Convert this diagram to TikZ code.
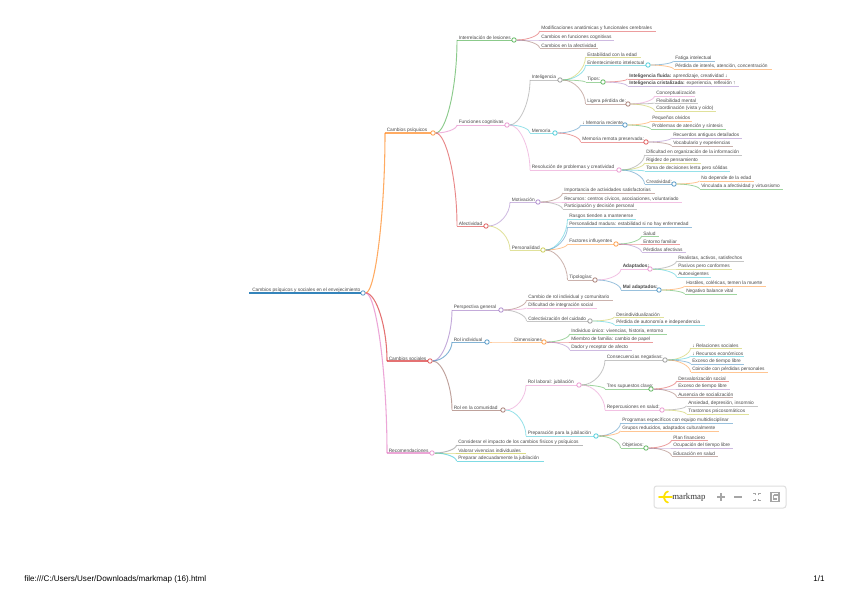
\documentclass[tikz,border=0pt]{standalone}
\usepackage{fontspec}
\setmainfont{Liberation Sans}
\newfontfamily\logofont{Liberation Serif}
\usetikzlibrary{calc}
\definecolor{c1}{HTML}{1F77B4}\definecolor{c2}{HTML}{FF7F0E}\definecolor{c3}{HTML}{2CA02C}
\definecolor{c4}{HTML}{D62728}\definecolor{c5}{HTML}{9467BD}\definecolor{c6}{HTML}{8C564B}
\definecolor{c7}{HTML}{E377C2}\definecolor{c8}{HTML}{7F7F7F}\definecolor{c9}{HTML}{BCBD22}
\definecolor{c0}{HTML}{17BECF}\definecolor{ink}{HTML}{4A4A4A}\definecolor{tool}{HTML}{A6A6A6}
\tikzset{
  x=0.75pt,y=-0.75pt,
  mmtext/.style={anchor=south west,inner xsep=0pt,inner ysep=0.3pt,text=ink,
    font=\fontsize{3.6}{4}\selectfont},
  lw1/.style={line width=0.8pt,draw opacity=0.65},
  lw2/.style={line width=0.7pt,draw opacity=0.55},
  lw3/.style={line width=0.6pt,draw opacity=0.45},
  dot/.style={circle,draw,fill=white,inner sep=0pt,minimum size=3.3pt,line width=0.65pt,draw opacity=0.7},
  footer/.style={anchor=west,inner sep=0pt,text=black,font=\fontsize{6.05}{7}\selectfont},
  toolicon/.style={draw=tool,line width=0.9pt},
}
% #1 width style, #2 parent, #3 name, #4 x1, #5 x2, #6 y, #7 colour, #8 text
\newcommand\mmbase[8][lw3]{%
  \coordinate (#3s) at (#4,#6);
  \coordinate (#3e) at (#5,#6);
  \node[mmtext] (#3t) at ($(#3s)+(1.5,0)$) {#8};
  \draw[#1,#7] (#3s) -- (#3e);
  \draw[#1,#7] (#2.east) .. controls ($(#2.east)!.5!(#3s |- #2.east)$) and ($(#2.east -| #3s)!.5!(#3s)$) .. (#3s);
}
\newcommand\mml[8][lw3]{\mmbase[#1]{#2}{#3}{#4}{#5}{#6}{#7}{#8}}
\newcommand\mmp[8][lw3]{\mmbase[#1]{#2}{#3}{#4}{#5}{#6}{#7}{#8}\node[dot,draw=#7] (#3) at (#3e) {};}
\begin{document}
\begin{tikzpicture}
\path[use as bounding box,fill=white] (0,0) rectangle (848,599);
% root
\coordinate (rs) at (249,293);
\coordinate (re) at (363,293);
\node[mmtext] (rt) at ($(rs)+(3,0)$) {Cambios psíquicos y sociales en el envejecimiento};
\draw[lw1,c1,draw opacity=0.9] (rs) -- (re);
\node[dot,draw=c1] (r) at (re) {};
% Cambios psiquicos
\mmp[lw1]{r}{a}{385}{433}{133}{c2}{Cambios psíquicos}
\mmp[lw2]{a}{aa}{457}{514}{40}{c3}{Interrelación de lesiones}
\mml{aa}{aaa}{539.5}{656}{31}{c4}{Modificaciones anatómicas y funcionales cerebrales}
\mml{aa}{aab}{539.5}{614}{40}{c5}{Cambios en funciones cognitivas}
\mml{aa}{aac}{539.5}{598}{48}{c6}{Cambios en la afectividad}
\mmp[lw2]{a}{ab}{457}{507}{125}{c7}{Funciones cognitivas}
\mmp{ab}{aba}{530}{560}{80}{c8}{Inteligencia}
\mml{aba}{abaa}{585.5}{641}{57}{c9}{Estabilidad con la edad}
\mmp{aba}{abab}{585.5}{648}{65}{c0}{Enlentecimiento intelectual}
\mml{abab}{ababa}{673.5}{715}{61}{c1}{Fatiga intelectual}
\mml{abab}{ababb}{673.5}{772}{69}{c2}{Pérdida de interés, atención, concentración}
\mmp{aba}{abac}{585.5}{603}{82}{c3}{Tipos:}
\mml{abac}{abaca}{627.5}{730}{79}{c4}{\textbf{Inteligencia fluida:} aprendizaje, creatividad ↓}
\mml{abac}{abacb}{627.5}{739}{86}{c5}{\textbf{Inteligencia cristalizada:} experiencia, reflexión ↑}
\mmp{aba}{abad}{585.5}{628}{104}{c6}{Ligera pérdida de:}
\mml{abad}{abada}{654.5}{695}{96}{c7}{Conceptualización}
\mml{abad}{abadb}{654.5}{698}{103}{c8}{Flexibilidad mental}
\mml{abad}{abadc}{654.5}{716}{111}{c9}{Coordinación (vista y oído)}
\mmp{ab}{abb}{530}{555}{133}{c0}{Memoria}
\mmp{abb}{abba}{580.5}{625}{125}{c1}{↓ Memoria reciente}
\mml{abba}{abbaa}{650.5}{692}{121}{c2}{Pequeños olvidos}
\mml{abba}{abbab}{650.5}{726}{129}{c3}{Problemas de atención y síntesis}
\mmp{abb}{abbb}{580.5}{646}{142}{c4}{Memoria remota preservada:}
\mml{abbb}{abbba}{671.5}{742}{138}{c5}{Recuerdos antiguos detallados}
\mml{abbb}{abbbb}{671.5}{733}{146}{c6}{Vocabulario y experiencias}
\mmp{ab}{abc}{530}{619}{170}{c7}{Resolución de problemas y creatividad}
\mml{abc}{abca}{644.5}{742}{155}{c8}{Dificultad en organización de la información}
\mml{abc}{abcb}{644.5}{701}{163}{c9}{Rigidez de pensamiento}
\mml{abc}{abcc}{644.5}{730}{171}{c0}{Toma de decisiones lenta pero sólidas}
\mmp{abc}{abcd}{644.5}{674}{184}{c1}{Creatividad:}
\mml{abcd}{abcda}{699.5}{754}{181}{c2}{No depende de la edad}
\mml{abcd}{abcdb}{699.5}{783}{189}{c3}{Vinculada a afectividad y virtuosismo}
\mmp[lw2]{a}{ac}{457}{486}{226}{c4}{Afectividad}
\mmp{ac}{aca}{510}{538}{202}{c5}{Motivación}
\mml{aca}{acaa}{562.5}{655}{193}{c6}{Importancia de actividades satisfactorias}
\mml{aca}{acab}{562.5}{682}{202}{c7}{Recursos: centros cívicos, asociaciones, voluntariado}
\mml{aca}{acac}{562.5}{637}{209}{c8}{Participación y decisión personal}
\mmp{ac}{acb}{510}{543}{250}{c9}{Personalidad}
\mml{acb}{acba}{567.5}{636}{219}{c0}{Rasgos tienden a mantenerse}
\mml{acb}{acbb}{567.5}{692}{227}{c1}{Personalidad madura: estabilidad si no hay enfermedad}
\mmp{acb}{acbc}{567.5}{616}{244}{c2}{Factores influyentes}
\mml{acbc}{acbca}{641.5}{659}{236}{c3}{Salud}
\mml{acbc}{acbcb}{641.5}{680}{244}{c4}{Entorno familiar}
\mml{acbc}{acbcc}{641.5}{686}{252}{c5}{Pérdidas afectivas}
\mmp{acb}{acbd}{567.5}{595}{280}{c6}{Tipologías:}
\mmp{acbd}{acbda}{621}{650}{269}{c7}{\textbf{Adaptados:}}
\mml{acbda}{acbdaa}{676.5}{744}{261}{c8}{Realistas, activos, satisfechos}
\mml{acbda}{acbdab}{676.5}{732}{269}{c9}{Pasivos pero conformes}
\mml{acbda}{acbdac}{676.5}{711}{277}{c0}{Autoexigentes}
\mmp{acbd}{acbdb}{621}{659}{290}{c1}{\textbf{Mal adaptados:}}
\mml{acbdb}{acbdba}{684.5}{766}{286}{c2}{Hostiles, coléricas, temen la muerte}
\mml{acbdb}{acbdbb}{684.5}{737}{294}{c3}{Negativo balance vital}
% Cambios sociales
\mmp[lw1]{r}{b}{387}{430}{361}{c4}{Cambios sociales}
\mmp[lw2]{b}{ba}{452}{501}{310}{c5}{Perspectiva general}
\mml{ba}{baa}{526.5}{613}{300}{c6}{Cambio de rol individual y comunitario}
\mml{ba}{bab}{526.5}{597}{308}{c7}{Dificultad de integración social}
\mmp{ba}{bac}{526.5}{590}{321}{c8}{Colectivización del cuidado}
\mml{bac}{baca}{614.5}{664}{317}{c9}{Desindividualización}
\mml{bac}{bacb}{614.5}{705}{325}{c0}{Pérdida de autonomía e independencia}
\mmp[lw2]{b}{bb}{452}{487}{342}{c1}{Rol individual}
\mmp{bb}{bba}{512.5}{544}{342}{c2}{Dimensiones}
\mml{bba}{bbaa}{569.5}{667}{334}{c3}{Individuo único: vivencias, historia, entorno}
\mml{bba}{bbab}{569.5}{653}{342}{c4}{Miembro de familia: cambio de papel}
\mml{bba}{bbac}{569.5}{632}{350}{c5}{Dador y receptor de afecto}
\mmp[lw2]{b}{bc}{452}{503}{410}{c6}{Rol en la comunidad}
\mmp{bc}{bca}{526}{579}{385}{c7}{Rol laboral: jubilación}
\mmp{bca}{bcaa}{605}{665}{360}{c8}{Consecuencias negativas:}
\mml{bcaa}{bcaaa}{690.5}{742}{348}{c9}{↓ Relaciones sociales}
\mml{bcaa}{bcaab}{690.5}{744}{356}{c0}{↓ Recursos económicos}
\mml{bcaa}{bcaac}{690.5}{744}{364}{c1}{Exceso de tiempo libre}
\mml{bcaa}{bcaad}{690.5}{768}{372}{c2}{Coincide con pérdidas personales}
\mmp{bca}{bcab}{605}{651}{389}{c3}{Tres supuestos clave:}
\mml{bcab}{bcaba}{676.5}{729}{381}{c4}{Desvalorización social}
\mml{bcab}{bcabb}{676.5}{730}{389}{c5}{Exceso de tiempo libre}
\mml{bcab}{bcabc}{676.5}{733}{397}{c6}{Ausencia de socialización}
\mmp{bca}{bcac}{605}{662}{410}{c7}{Repercusiones en salud:}
\mml{bcac}{bcaca}{686.5}{758}{406}{c8}{Ansiedad, depresión, insomnio}
\mml{bcac}{bcacb}{686.5}{749}{414}{c9}{Trastornos psicosomáticos}
\mmp{bc}{bcb}{526}{596}{436}{c0}{Preparación para la jubilación}
\mml{bcb}{bcba}{620.5}{733}{423}{c1}{Programas específicos con equipo multidisciplinar}
\mml{bcb}{bcbb}{620.5}{719}{431}{c2}{Grupos reducidos, adaptados culturalmente}
\mmp{bcb}{bcbc}{620.5}{646}{448}{c3}{Objetivos:}
\mml{bcbc}{bcbca}{671.5}{708}{440}{c4}{Plan financiero}
\mml{bcbc}{bcbcb}{671.5}{733}{448}{c5}{Ocupación del tiempo libre}
\mml{bcbc}{bcbcc}{671.5}{718}{456}{c6}{Educación en salud}
% Recomendaciones
\mmp[lw1]{r}{c}{387}{432}{453}{c7}{Recomendaciones}
\mml[lw2]{c}{ca}{456.5}{583}{445}{c8}{Considerar el impacto de los cambios físicos y psíquicos}
\mml[lw2]{c}{cb}{456.5}{526}{453}{c9}{Valorar vivencias individuales}
\mml[lw2]{c}{cc}{456.5}{544}{461}{c0}{Preparar adecuadamente la jubilación}
% toolbar
\draw[draw=black!13,line width=0.75pt,rounded corners=2pt] (654,486) rectangle (786,508);
\draw[yellow!85!orange,line width=1.3pt,line cap=round] (659,497) -- (672,497) (668,491.5) .. controls (664,492) and (665,497) .. (663,497) (668,502.5) .. controls (664,502) and (665,497) .. (663,497);
\node[anchor=west,inner sep=0pt,text=black!80,font=\logofont\fontsize{6.6}{7}\selectfont] (logo) at (672,497) {markmap};
\draw[toolicon] (717,497) -- (725,497) (721,493) -- (721,501);
\draw[toolicon] (734,497) -- (742,497);
\draw[toolicon] (753,493.5) -- (755.5,493.5) -- (755.5,495) (758.5,495) -- (758.5,493.5) -- (761,493.5)
 (753,500.5) -- (755.5,500.5) -- (755.5,499) (758.5,499) -- (758.5,500.5) -- (761,500.5);
\draw[toolicon] (771,492.5) rectangle (779,501.5) (773.5,495) -- (779,495) (773.5,495) -- (773.5,499) -- (776.5,499);
% footer
\node[footer] (fa) at (24,579) {file:///C:/Users/User/Downloads/markmap (16).html};
\node[footer] (fb) at (813,579) {1/1};
\end{tikzpicture}
\end{document}
